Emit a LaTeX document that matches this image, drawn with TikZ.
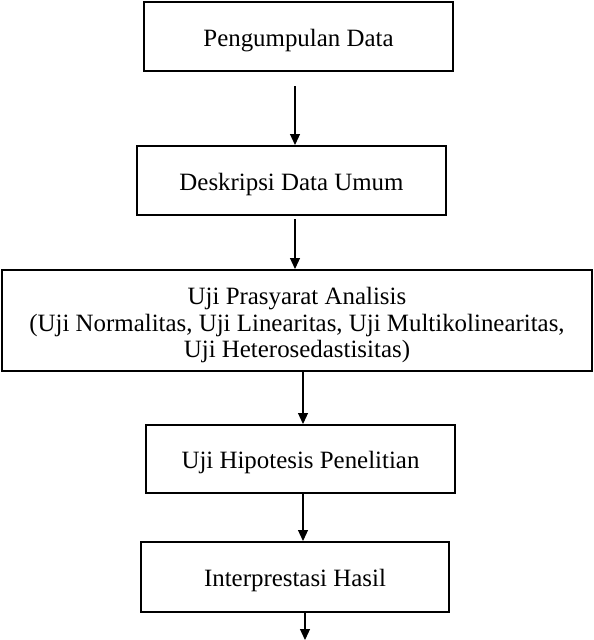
\documentclass[tikz,border=0pt]{standalone}
\usepackage{fontspec}
\setmainfont{Liberation Serif}
\usetikzlibrary{arrows.meta}
\begin{document}
\begin{tikzpicture}[x=1pt,y=-1pt,
  stepbox/.style={draw=black,line width=2pt,inner sep=0pt,align=center,
    text height=25pt,font=\fontsize{24.9}{26.5}\selectfont},
  arr/.style={line width=1.2pt,-{Triangle[length=11pt,width=10pt]}}]
\useasboundingbox (0,0) rectangle (594,640);
\node[stepbox,minimum width=309pt,minimum height=69pt] (b1) at (298.5,36.5) {Pengumpulan Data};
\node[stepbox,minimum width=309pt,minimum height=69pt] (b2) at (291.5,180.5) {Deskripsi Data Umum};
\node[stepbox,text height=80pt,minimum width=590pt,minimum height=101pt] (b3) at (297,320.5) {Uji Prasyarat Analisis\\(Uji Normalitas, Uji Linearitas, Uji Multikolinearitas,\\Uji Heterosedastisitas)};
\node[stepbox,minimum width=309pt,minimum height=68pt] (b4) at (300.5,459) {Uji Hipotesis Penelitian};
\node[stepbox,minimum width=308pt,minimum height=70pt] (b5) at (295,577) {Interprestasi Hasil};
\coordinate (s1) at (295,86);
\coordinate (s2) at (295,219);
\coordinate (x3) at (303,0);
\coordinate (x5) at (305,0);
\coordinate (e5) at (305,640);
\draw[arr] (s1) -- (s1 |- b2.north);
\draw[arr] (s2) -- (s2 |- b3.north);
\draw[arr] (x3 |- b3.south) -- (x3 |- b4.north);
\draw[arr] (x3 |- b4.south) -- (x3 |- b5.north);
\draw[arr] (x5 |- b5.south) -- (e5);
\end{tikzpicture}
\end{document}
